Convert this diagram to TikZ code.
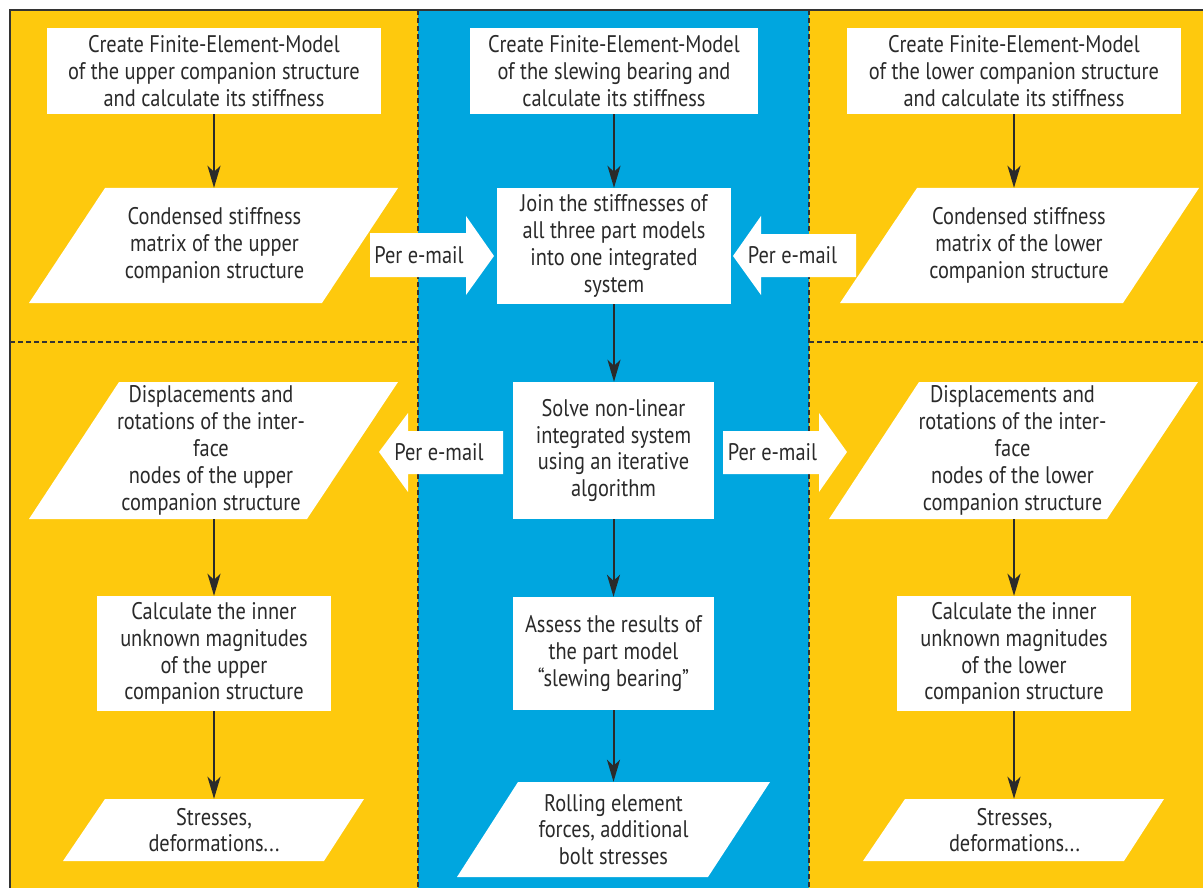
\documentclass[tikz,border=0pt]{standalone}
\usepackage{fontspec}
\setmainfont[FakeStretch=0.85]{PT Sans}
\usetikzlibrary{arrows.meta,calc}
\definecolor{ylw}{HTML}{FEC90D}
\definecolor{blu}{HTML}{00A6DF}
\definecolor{txt}{HTML}{2A2A2A}
\definecolor{framec}{HTML}{333333}
\begin{document}
\begin{tikzpicture}[x=1pt,y=-1pt,
  every node/.style={font=\fontsize{24}{26.8}\selectfont, text=txt, align=center, inner sep=0pt},
  rbox/.style={fill=white},
  ptext/.style={},
  flow/.style={draw=txt, line width=2pt, -{Stealth[length=22pt,width=13pt,inset=6pt]}},
  sep/.style={draw=framec, line width=1.6pt, dash pattern=on 5pt off 3pt},
  blk/.style={fill=white},
]
\useasboundingbox (0,0) rectangle (1203,888);
\fill[white] (0,0) rectangle (1203,888);
\fill[ylw] (10,10) rectangle (1203,888);
\fill[blu] (418,10) rectangle (809,888);
\draw[sep] (418,10) -- (418,888);
\draw[sep] (809,10) -- (809,888);
\draw[sep] (10,342) -- (418,342);
\draw[sep] (809,342) -- (1203,342);
\draw[framec, line width=2.2pt] (10,888) -- (10,10) -- (1203,10);

% parallelogram shapes
\fill[white] (105,188) -- (398,188) -- (322,303) -- (29,303) -- cycle;
\fill[white] (917,188) -- (1199,188) -- (1123,303) -- (840,303) -- cycle;
\fill[white] (119,382) -- (398,382) -- (307,519) -- (29,519) -- cycle;
\fill[white] (919,382) -- (1198,382) -- (1107,519) -- (829,519) -- cycle;
\fill[white] (105,799) -- (364,799) -- (324,861) -- (63,861) -- cycle;
\fill[white] (905,799) -- (1164,799) -- (1124,861) -- (863,861) -- cycle;
\fill[white] (518,782) -- (770,782) -- (708,877) -- (457,877) -- cycle;

% block arrows "Per e-mail"
\fill[white] (370,233) -- (466,233) -- (466,216) -- (494,256) -- (466,295) -- (466,277) -- (370,277) -- cycle;
\fill[white] (856,234) -- (761,234) -- (761,216) -- (733,256) -- (761,295) -- (761,277) -- (856,277) -- cycle;
\fill[white] (503,431) -- (408,431) -- (408,413) -- (379,452) -- (408,492) -- (408,474) -- (503,474) -- cycle;
\fill[white] (723,431) -- (819,431) -- (819,413) -- (847,452) -- (819,492) -- (819,474) -- (723,474) -- cycle;
\node (A1) at (419,255) {Per e-mail};
\node (A2) at (792.5,255) {Per e-mail};
\node (A3) at (439,452) {Per e-mail};
\node (A4) at (772.5,452) {Per e-mail};

% left column
\node[rbox, minimum width=334pt, minimum height=86pt] (L1) at (214,71)
  {Create Finite-Element-Model\\of the upper companion structure\\and calculate its stiffness};
\node[ptext, minimum height=115pt] (L2) at (214.5,245.5)
  {Condensed stiffness\\matrix of the upper\\companion structure};
\node[ptext, minimum height=137pt] (L3) at (211,450.5)
  {Displacements and\\rotations of the inter-\\face\\nodes of the upper\\companion structure};
\node[rbox, minimum width=234pt, minimum height=115pt] (L4) at (214,653.5)
  {Calculate the inner\\unknown magnitudes\\of the upper\\companion structure};
\node[ptext, minimum height=62pt] (L5) at (214,830)
  {Stresses,\\deformations...};

% centre column
\node[rbox, minimum width=288pt, minimum height=86pt] (C1) at (614,71)
  {Create Finite-Element-Model\\of the slewing bearing and\\calculate its stiffness};
\node[rbox, minimum width=234pt, minimum height=116pt] (C2) at (614,246)
  {Join the stiffnesses of\\all three part models\\into one integrated\\system};
\node[rbox, minimum width=201pt, minimum height=137pt] (C3) at (613.5,450.5)
  {Solve non-linear\\integrated system\\using an iterative\\algorithm};
\node[rbox, minimum width=201pt, minimum height=113pt] (C4) at (613.5,653.5)
  {Assess the results of\\the part model\\``slewing bearing''};
\node[ptext, minimum height=95pt] (C5) at (613.5,829.5)
  {Rolling element\\forces, additional\\bolt stresses};

% right column
\node[rbox, minimum width=334pt, minimum height=86pt] (R1) at (1014,71)
  {Create Finite-Element-Model\\of the lower companion structure\\and calculate its stiffness};
\node[ptext, minimum height=115pt] (R2) at (1019,245.5)
  {Condensed stiffness\\matrix of the lower\\companion structure};
\node[ptext, minimum height=137pt] (R3) at (1012.5,450.5)
  {Displacements and\\rotations of the inter-\\face\\nodes of the lower\\companion structure};
\node[rbox, minimum width=234pt, minimum height=115pt] (R4) at (1014,653.5)
  {Calculate the inner\\unknown magnitudes\\of the lower\\companion structure};
\node[ptext, minimum height=62pt] (R5) at (1014.5,830)
  {Stresses,\\deformations...};

% connectors
\draw[flow] (L1.south) -- (L1.south |- L2.north);
\draw[flow] (L4.north |- L3.south) -- (L4.north);
\draw[flow] (L4.south) -- (L4.south |- L5.north);
\draw[flow] (C1.south) -- (C2.north);
\draw[flow] (C2.south) -- (C2.south |- C3.north);
\draw[flow] (C3.south) -- (C4.north);
\draw[flow] (C4.south) -- (C4.south |- C5.north);
\draw[flow] (R1.south) -- (R1.south |- R2.north);
\draw[flow] (R4.north |- R3.south) -- (R4.north);
\draw[flow] (R4.south) -- (R4.south |- R5.north);
\end{tikzpicture}
\end{document}
